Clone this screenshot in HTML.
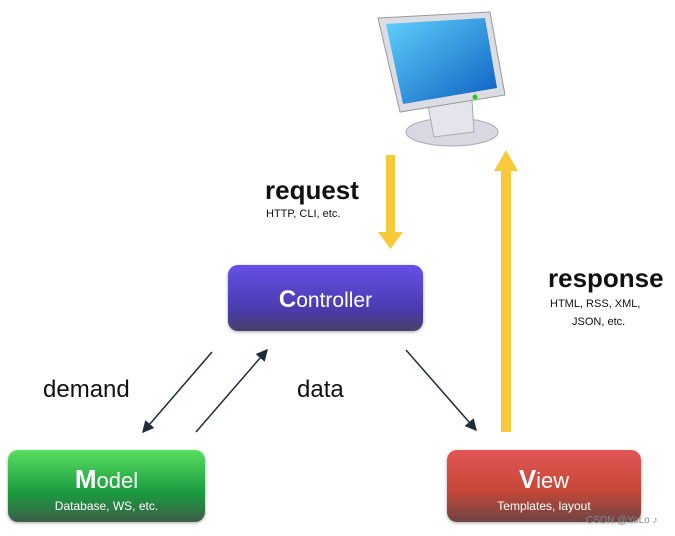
<!DOCTYPE html>
<html><head><style>
body{margin:0;width:675px;height:536px;background:#fff;position:relative;overflow:hidden;font-family:"Liberation Sans",sans-serif}
.t{position:absolute;color:#111;white-space:nowrap}
.box{position:absolute;border-radius:10px;color:#fff;text-align:center;box-shadow:0 1px 3px rgba(0,0,0,.35)}
</style></head><body>
<svg width="675" height="536" style="position:absolute;left:0;top:0">
<defs>
<linearGradient id="scr" x1="0" y1="0" x2="1" y2="1"><stop offset="0" stop-color="#5fd0fb"/><stop offset="1" stop-color="#0c5fc0"/></linearGradient>
<marker id="ah" markerWidth="8" markerHeight="8" refX="7" refY="4" orient="auto"><path d="M0,0 L8,4 L0,8 z" fill="#1e2d3a"/></marker>
</defs>
<ellipse cx="452" cy="132" rx="46" ry="14" fill="#d8d8e2" stroke="#a8a8b8"/>
<path d="M428,106 L472,100 L474,132 L434,137 z" fill="#e4e4ec" stroke="#aaa"/>
<path d="M378,18 L490,12 L505,95 L400,112 z" fill="#dcdce4" stroke="#999"/>
<path d="M386,24 L485,18 L497,88 L403,104 z" fill="url(#scr)"/>
<circle cx="475" cy="97" r="2.5" fill="#2c2"/>
<rect x="386" y="155" width="9" height="78" fill="#f9c93c"/>
<path d="M378,232 L403,232 L390.5,249 z" fill="#f9c93c"/>
<rect x="501" y="170" width="10" height="262" fill="#f9c93c"/>
<path d="M494,171 L518,171 L506,150 z" fill="#f9c93c"/>
<line x1="212" y1="352" x2="143" y2="432" stroke="#1e2d3a" stroke-width="1.5" marker-end="url(#ah)"/>
<line x1="196" y1="432" x2="267" y2="350" stroke="#1e2d3a" stroke-width="1.5" marker-end="url(#ah)"/>
<line x1="406" y1="350" x2="476" y2="430" stroke="#1e2d3a" stroke-width="1.5" marker-end="url(#ah)"/>
</svg>
<div class="t" style="left:265px;top:175px;font-size:26px;font-weight:bold">request</div>
<div class="t" style="left:266px;top:208px;font-size:11px">HTTP, CLI, etc.</div>
<div class="t" style="left:548px;top:263px;font-size:26px;font-weight:bold">response</div>
<div class="t" style="left:550px;top:298px;font-size:11px">HTML, RSS, XML,</div>
<div class="t" style="left:572px;top:316px;font-size:11px">JSON, etc.</div>
<div class="t" style="left:43px;top:376px;font-size:24px">demand</div>
<div class="t" style="left:297px;top:376px;font-size:24px">data</div>
<div class="box" style="left:228px;top:265px;width:195px;height:66px;background:linear-gradient(#6650e8,#4a3cb0 65%,#4a3e6a)"><div style="font-size:21px;margin-top:21px"><b style="font-size:24px">C</b>ontroller</div></div>
<div class="box" style="left:8px;top:450px;width:197px;height:72px;background:linear-gradient(#58de60,#1a9a40 60%,#3e5e48)"><div style="font-size:22px;margin-top:14px"><b style="font-size:26px">M</b>odel</div><div style="font-size:12px;margin-top:4px">Database, WS, etc.</div></div>
<div class="box" style="left:447px;top:450px;width:194px;height:72px;background:linear-gradient(#e25656,#c84838 55%,#6e4444)"><div style="font-size:22px;margin-top:14px"><b style="font-size:26px">V</b>iew</div><div style="font-size:12px;margin-top:4px">Templates, layout</div></div>
<div class="t" style="left:586px;top:515px;font-size:10px;color:#888">CSDN @YoLo ♪</div>
</body></html>
